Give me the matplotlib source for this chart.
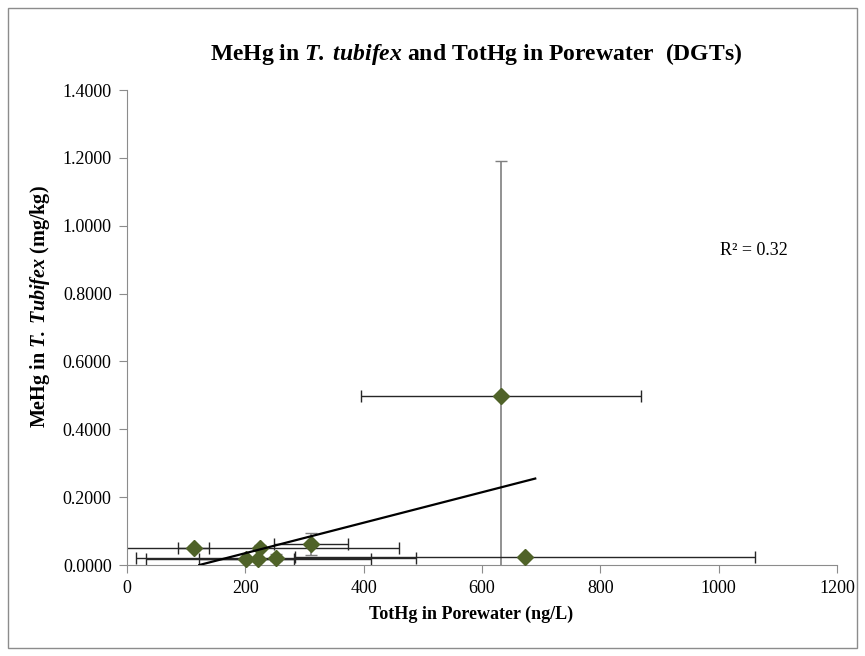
import matplotlib
matplotlib.use("Agg")
import matplotlib.pyplot as plt
import numpy as np
from matplotlib.ticker import FormatStrFormatter
from matplotlib.patches import Rectangle

plt.rcParams['font.family'] = ['Liberation Serif', 'DejaVu Serif']
plt.rcParams['mathtext.fontset'] = 'custom'
plt.rcParams['mathtext.rm'] = 'Liberation Serif'
plt.rcParams['mathtext.it'] = 'Liberation Serif:italic'
plt.rcParams['mathtext.bf'] = 'Liberation Serif:bold'
plt.rcParams['mathtext.bfit'] = 'Liberation Serif:bold:italic'

# TotHg in porewater (ng/L) vs MeHg in T. tubifex (mg/kg)
tothg = [113, 224, 311, 202, 222, 252, 673, 632]
tothg_err = [26, 236, 62, 80, 190, 236, 389, 237]
mehg = [0.051, 0.051, 0.061, 0.018, 0.018, 0.022, 0.023, 0.497]
mehg_err = [0.004, 0.008, 0.032, 0.004, 0.006, 0.010, 0.003, 0.693]
trend_end = 690

x = np.array(tothg)
y = np.array(mehg)
slope, inter = np.polyfit(x, y, 1)
r2 = np.corrcoef(x, y)[0, 1] ** 2

fig = plt.figure(figsize=(8.65, 6.56), dpi=100)
ax = fig.add_axes([0.1468, 0.1387, 0.8208, 0.7241])

# error bars: y in grey, x in near black
ax.errorbar(x, y, yerr=mehg_err, fmt='none', ecolor='#7f7f7f', elinewidth=1.2,
            capsize=4, capthick=1, zorder=2)
ax.errorbar(x, y, xerr=tothg_err, fmt='none', ecolor='#262626', elinewidth=1,
            capsize=4, capthick=1, zorder=2)
ax.plot(x, y, 'D', color='#4f6228', markersize=8, zorder=3, clip_on=False)

# linear trendline
x0 = -inter / slope
tx = np.linspace(x0, trend_end, 50)
ax.plot(tx, slope * tx + inter, color='black', lw=1.6, zorder=4)

ax.text(1002, 0.928, 'R² = %.2f' % r2, fontsize=13, va='center')

ax.set_xlim(0, 1200)
ax.set_ylim(0, 1.4)
ax.set_xticks(np.arange(0, 1201, 200))
ax.set_yticks(np.arange(0, 1.41, 0.2))
ax.yaxis.set_major_formatter(FormatStrFormatter('%.4f'))
for s in ['top', 'right']:
    ax.spines[s].set_visible(False)
for s in ['left', 'bottom']:
    ax.spines[s].set_color('#8c8c8c')
ax.tick_params(direction='out', length=6, color='#8c8c8c', labelsize=13, pad=5)

ax.set_xlabel('TotHg in Porewater (ng/L)', fontsize=13, fontweight='bold')
ax.xaxis.set_label_coords(0.485, -0.086)
ax.set_ylabel(r'MeHg in $\mathbfit{T.\;Tubifex}$ (mg/kg)', fontsize=14.5,
              fontweight='bold')
ax.yaxis.set_label_coords(-0.106, 0.545)
fig.text(0.55, 0.918, r'MeHg in $\mathbfit{T.\;tubifex}$ and TotHg in Porewater  (DGTs)',
         fontsize=17, fontweight='bold', ha='center', va='center')

fig.patches.append(Rectangle((0.009, 0.012), 0.982, 0.976, transform=fig.transFigure,
                             fill=False, edgecolor='#8c8c8c', lw=1))

fig.savefig('out.png', dpi=100)
